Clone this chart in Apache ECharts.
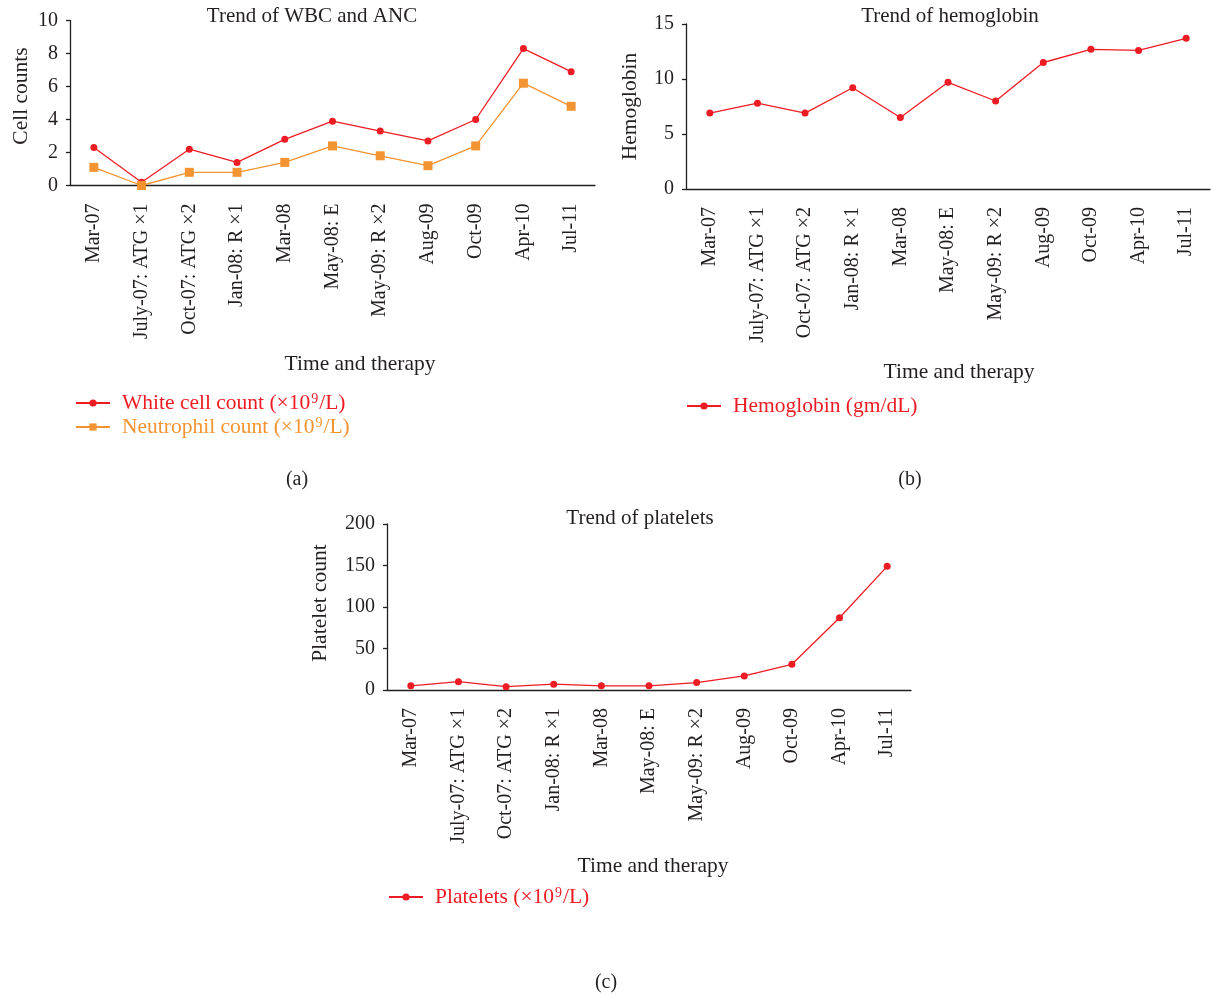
<!DOCTYPE html>
<html>
<head>
<meta charset="utf-8">
<script src="https://cdn.jsdelivr.net/npm/echarts@6/dist/echarts.min.js"></script>
<style>
  html, body { margin: 0; padding: 0; background: #fff; }
  #chart { width: 1212px; height: 995px; }
</style>
</head>
<body>
<div id="chart"></div>
<script>
// Time points with therapy given at each stage
const categories = ['Mar-07', 'July-07: ATG \u00d71', 'Oct-07: ATG \u00d72', 'Jan-08: R \u00d71', 'Mar-08',
  'May-08: E', 'May-09: R \u00d72', 'Aug-09', 'Oct-09', 'Apr-10', 'Jul-11'];

// Blood counts per time point
const wbc = [2.3, 0.2, 2.2, 1.4, 2.8, 3.9, 3.3, 2.7, 4.0, 8.3, 6.9];
const anc = [1.1, 0.0, 0.8, 0.8, 1.4, 2.4, 1.8, 1.2, 2.4, 6.2, 4.8];
const hemoglobin = [6.9, 7.8, 6.9, 9.2, 6.5, 9.7, 8.0, 11.5, 12.7, 12.6, 13.7];
const platelets = [5, 10, 4, 7, 5, 5, 9, 17, 31, 87, 149];

const RED = '#ed1c24';
const ORANGE = '#f29431';
const INK = '#231f20';
const FONT = '"Liberation Serif", "DejaVu Serif", serif';
const FS = 20;        // tick labels
const NAME_FS = 21.5; // axis names, legend
const TITLE_FS = 21;

const chart = echarts.init(document.getElementById('chart'));

function xAxisFor(gridIndex, nameGap, shift) {
  return {
    type: 'category', gridIndex, data: categories, boundaryGap: true,
    name: 'Time and therapy', nameLocation: 'middle', nameGap,
    nameTextStyle: { fontFamily: FONT, fontSize: NAME_FS, color: INK, padding: [0, 0, 0, shift] },
    axisLine: { lineStyle: { color: INK, width: 1.3 } },
    axisTick: { alignWithLabel: true, length: 5, lineStyle: { color: INK, width: 1.3 } },
    axisLabel: { rotate: 90, margin: 18, fontFamily: FONT, fontSize: FS, color: INK, interval: 0 },
    splitLine: { show: false }
  };
}
function yAxisFor(gridIndex, name, max, interval, nameGap, shift) {
  return {
    type: 'value', gridIndex, min: 0, max, interval,
    name, nameLocation: 'middle', nameGap,
    nameTextStyle: { fontFamily: FONT, fontSize: NAME_FS, color: INK, padding: [0, 0, 0, shift] },
    axisLine: { show: true, lineStyle: { color: INK, width: 1.3 } },
    axisTick: { show: true, length: 4, lineStyle: { color: INK, width: 1.3 } },
    axisLabel: { margin: 12, fontFamily: FONT, fontSize: FS, color: INK },
    splitLine: { show: false }
  };
}
function lineSeries(name, data, idx, color, symbol, size) {
  return {
    type: 'line', name, data, xAxisIndex: idx, yAxisIndex: idx,
    symbol, symbolSize: size, showSymbol: true,
    lineStyle: { color, width: 1.3 },
    itemStyle: { color },
    emphasis: { disabled: true }, animation: false
  };
}
function legendFor(names, colors, left, top) {
  return {
    orient: 'vertical', left, top, padding: 0, itemWidth: 34, itemHeight: 9, itemGap: 2,
    data: names.map((n, i) => ({ name: n, textStyle: { color: colors[i] } })),
    formatter: n => {
      const m = n.match(/^(.*\u00d710)9(\/L\))$/);
      return m ? '{b|' + m[1] + '}{s|9}{b|' + m[2] + '}' : '{b|' + n + '}';
    },
    textStyle: {
      fontFamily: FONT, fontSize: NAME_FS, padding: [0, 0, 0, 7],
      rich: {
        b: { fontFamily: FONT, fontSize: NAME_FS, lineHeight: 22 },
        s: { fontFamily: FONT, fontSize: 14, verticalAlign: 'top', lineHeight: 14, padding: [0, 1, 0, 1] }
      }
    }
  };
}
function caption(text, x, y, size) {
  return { type: 'text', x, y, style: { text, fill: INK, font: size + 'px ' + FONT, textAlign: 'center', textVerticalAlign: 'middle' } };
}

const WBC_NAME = 'White cell count (\u00d7109/L)';
const ANC_NAME = 'Neutrophil count (\u00d7109/L)';
const HB_NAME = 'Hemoglobin (gm/dL)';
const PLT_NAME = 'Platelets (\u00d7109/L)';

chart.setOption({
  animation: false,
  backgroundColor: '#fff',
  grid: [
    { left: 70, top: 20.5, width: 525, height: 165 },
    { left: 686, top: 24, width: 524, height: 165 },
    { left: 387, top: 524, width: 524, height: 166 }
  ],
  xAxis: [xAxisFor(0, 168, 55), xAxisFor(1, 172, 22), xAxisFor(2, 165, 8)],
  yAxis: [
    yAxisFor(0, 'Cell counts', 10, 2, 38, 14),
    yAxisFor(1, 'Hemoglobin', 15, 5, 45, 0),
    yAxisFor(2, 'Platelet count', 200, 50, 56, 8)
  ],
  legend: [
    legendFor([WBC_NAME, ANC_NAME], [RED, ORANGE], 75, 392),
    legendFor([HB_NAME], [RED], 686, 395),
    legendFor([PLT_NAME], [RED], 388, 886)
  ],
  series: [
    lineSeries(WBC_NAME, wbc, 0, RED, 'circle', 7),
    lineSeries(ANC_NAME, anc, 0, ORANGE, 'rect', 9),
    lineSeries(HB_NAME, hemoglobin, 1, RED, 'circle', 7),
    lineSeries(PLT_NAME, platelets, 2, RED, 'circle', 7)
  ],
  graphic: [
    caption('Trend of WBC and ANC', 312, 16, TITLE_FS),
    caption('Trend of hemoglobin', 950, 16, TITLE_FS),
    caption('Trend of platelets', 640, 518, TITLE_FS),
    caption('(a)', 297, 480, FS),
    caption('(b)', 910, 480, FS),
    caption('(c)', 606, 983, FS)
  ]
});
</script>
</body>
</html>
